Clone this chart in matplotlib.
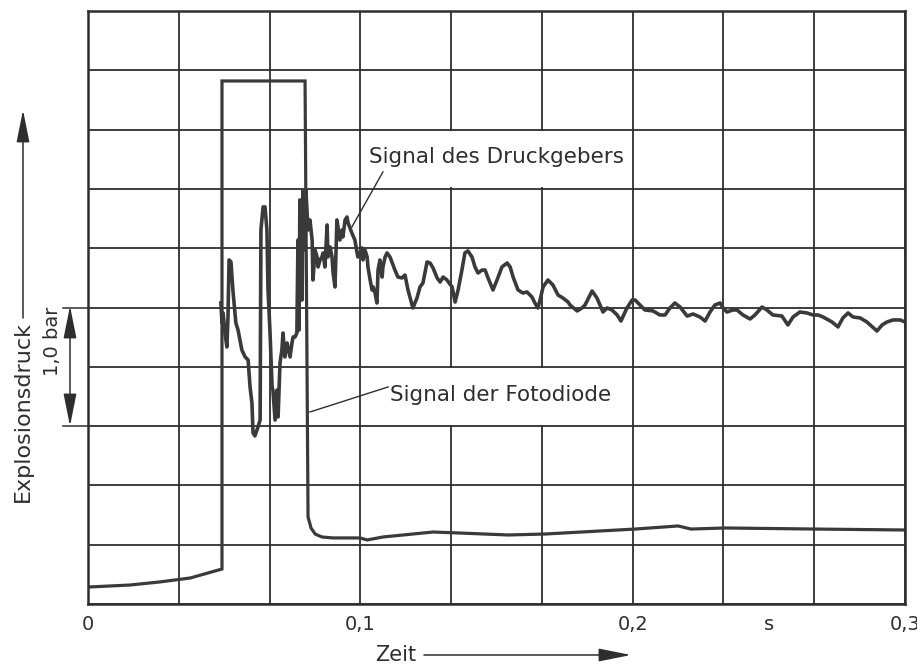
import numpy as np
import matplotlib
matplotlib.use("Agg")
import matplotlib.pyplot as plt
from matplotlib.patches import Rectangle, FancyArrowPatch

# ---------------- data (time in s, pressure in bar) ----------------
diode_t = [0.0, 0.0154, 0.0264, 0.0375, 0.0492, 0.0492, 0.0797, 0.0808, 0.0819,
           0.0834, 0.0859, 0.0900, 0.0999, 0.1025, 0.1083, 0.1267, 0.1359, 0.1543,
           0.1678, 0.2009, 0.2167, 0.2214, 0.2339, 0.2670, 0.3000]
diode_p = [0.143, 0.160, 0.186, 0.219, 0.295, 4.41, 4.41, 0.734, 0.641,
           0.590, 0.565, 0.557, 0.557, 0.540, 0.565, 0.607, 0.599, 0.582,
           0.590, 0.632, 0.658, 0.632, 0.641, 0.632, 0.624]

druck_t = [0.0488, 0.0492, 0.0496, 0.0503, 0.0510, 0.0514, 0.0518, 0.0525, 0.0532, 0.0543,
           0.0551, 0.0565, 0.0577, 0.0588, 0.0595, 0.0602, 0.0606, 0.0613, 0.0624, 0.0632,
           0.0635, 0.0643, 0.0650, 0.0657, 0.0661, 0.0668, 0.0676, 0.0679, 0.0687, 0.0694,
           0.0698, 0.0705, 0.0712, 0.0716, 0.0723, 0.0731, 0.0742, 0.0749, 0.0753, 0.0760,
           0.0767, 0.0771, 0.0775, 0.0778, 0.0786, 0.0790, 0.0797, 0.0800, 0.0808, 0.0815,
           0.0823, 0.0826, 0.0834, 0.0841, 0.0845, 0.0852, 0.0859, 0.0863, 0.0870, 0.0878,
           0.0881, 0.0889, 0.0896, 0.0900, 0.0907, 0.0914, 0.0918, 0.0925, 0.0933, 0.0936,
           0.0944, 0.0951, 0.0955, 0.0969, 0.0980, 0.0988, 0.0991, 0.0999, 0.1006, 0.1010,
           0.1017, 0.1025, 0.1028, 0.1036, 0.1043, 0.1047, 0.1054, 0.1061, 0.1065, 0.1072,
           0.1080, 0.1083, 0.1091, 0.1098, 0.1109, 0.1127, 0.1138, 0.1153, 0.1164, 0.1175,
           0.1193, 0.1208, 0.1219, 0.1230, 0.1245, 0.1256, 0.1267, 0.1282, 0.1293, 0.1304,
           0.1318, 0.1337, 0.1348, 0.1359, 0.1373, 0.1384, 0.1395, 0.1410, 0.1421, 0.1432,
           0.1447, 0.1458, 0.1469, 0.1487, 0.1502, 0.1520, 0.1539, 0.1550, 0.1561, 0.1579,
           0.1597, 0.1612, 0.1630, 0.1641, 0.1652, 0.1660, 0.1671, 0.1689, 0.1707, 0.1726,
           0.1744, 0.1763, 0.1770, 0.1796, 0.1814, 0.1825, 0.1851, 0.1869, 0.1891, 0.1906,
           0.1924, 0.1943, 0.1957, 0.1979, 0.1998, 0.2009, 0.2027, 0.2045, 0.2075, 0.2100,
           0.2119, 0.2137, 0.2155, 0.2174, 0.2200, 0.2222, 0.2247, 0.2266, 0.2284, 0.2302,
           0.2321, 0.2332, 0.2346, 0.2368, 0.2383, 0.2405, 0.2431, 0.2449, 0.2475, 0.2493,
           0.2515, 0.2548, 0.2570, 0.2589, 0.2614, 0.2640, 0.2662, 0.2681, 0.2699, 0.2732,
           0.2754, 0.2772, 0.2791, 0.2809, 0.2835, 0.2860, 0.2897, 0.2916, 0.2934, 0.2956,
           0.2982, 0.3000]
druck_p = [2.538, 2.369, 2.454, 2.285, 2.167, 2.420, 2.901, 2.884, 2.648, 2.369,
           2.310, 2.142, 2.083, 2.057, 1.830, 1.695, 1.442, 1.417, 1.492, 1.551,
           3.154, 3.348, 3.348, 3.154, 2.648, 2.310, 1.830, 1.804, 1.551, 1.804,
           1.577, 2.032, 2.142, 2.285, 2.083, 2.201, 2.083, 2.201, 2.251, 2.251,
           2.285, 3.069, 2.310, 3.407, 2.563, 3.491, 2.985, 3.491, 3.154, 3.238,
           3.069, 2.732, 2.985, 2.926, 2.842, 2.901, 2.926, 2.960, 2.842, 3.196,
           2.926, 3.010, 2.926, 2.791, 2.673, 3.238, 3.179, 3.069, 3.154, 3.095,
           3.238, 3.263, 3.213, 3.128, 3.069, 2.960, 2.926, 2.960, 3.002, 2.901,
           2.985, 2.926, 2.842, 2.732, 2.648, 2.673, 2.622, 2.538, 2.816, 2.901,
           2.757, 2.842, 2.926, 2.960, 2.926, 2.816, 2.757, 2.749, 2.774, 2.648,
           2.496, 2.580, 2.673, 2.707, 2.884, 2.875, 2.833, 2.749, 2.715, 2.757,
           2.732, 2.673, 2.546, 2.648, 2.816, 2.960, 2.977, 2.926, 2.842, 2.791,
           2.816, 2.816, 2.749, 2.648, 2.732, 2.842, 2.875, 2.842, 2.757, 2.648,
           2.622, 2.631, 2.589, 2.538, 2.496, 2.563, 2.673, 2.732, 2.690, 2.605,
           2.580, 2.546, 2.521, 2.471, 2.496, 2.521, 2.639, 2.580, 2.462, 2.496,
           2.479, 2.437, 2.386, 2.496, 2.563, 2.563, 2.521, 2.479, 2.471, 2.437,
           2.437, 2.496, 2.538, 2.504, 2.428, 2.445, 2.420, 2.386, 2.462, 2.521,
           2.538, 2.496, 2.462, 2.479, 2.479, 2.437, 2.403, 2.437, 2.504, 2.479,
           2.437, 2.428, 2.353, 2.420, 2.462, 2.454, 2.437, 2.437, 2.420, 2.378,
           2.336, 2.412, 2.454, 2.420, 2.412, 2.378, 2.302, 2.353, 2.378, 2.395,
           2.395, 2.378]

x_ticks = [0.0, 0.1, 0.2, 0.25, 0.3]
x_ticklabels = ["0", "0,1", "0,2", "s", "0,3"]
label_druck = "Signal des Druckgebers"
label_diode = "Signal der Fotodiode"
x_label = "Zeit"
y_label = "Explosionsdruck"
scale_label = "1,0 bar"

# ---------------- layout ----------------
W, H = 917, 669
INK = "#2e2e2e"
TRACE = "#3a3a3a"
plt.rcParams["font.family"] = ["DejaVu Sans"]

fig = plt.figure(figsize=(W / 100, H / 100), dpi=100)
fig.patch.set_facecolor("white")
ax = fig.add_axes([88 / W, 1 - 604 / H, 817 / W, 593 / H])
ax.set_xlim(0, 0.3)
ax.set_ylim(0, 5)


def fx(px):
    return px / W


def fy(py):
    return 1 - py / H


# grid
for xv in np.linspace(0, 0.3, 10):
    ax.axvline(xv, color=INK, lw=1.3, zorder=1)
for yv in np.linspace(0, 5, 11):
    ax.axhline(yv, color=INK, lw=1.3, zorder=1)

# white label boxes (cover grid lines inside cells)
ex, ey = 0.0007, 0.012
for (x0, y0) in [(0.1, 3.5), (0.1, 1.5)]:
    ax.add_patch(Rectangle((x0 + ex, y0 + ey), 0.1 - 2 * ex, 0.5 - 2 * ey,
                           facecolor="white", edgecolor="none", zorder=1.5))

# traces
ax.plot(diode_t, diode_p, color=TRACE, lw=2.3, zorder=3, solid_joinstyle="miter")
ax.plot(druck_t, druck_p, color=TRACE, lw=2.6, zorder=3.1, solid_joinstyle="round")

# labels with leader lines
ax.text(0.1032, 3.765, label_druck, fontsize=15.5, color=INK, ha="left", va="center", zorder=4)
ax.plot([0.1083, 0.0969], [3.643, 3.179], color=INK, lw=1.0, zorder=4)
ax.text(0.1109, 1.765, label_diode, fontsize=15.5, color=INK, ha="left", va="center", zorder=4)
ax.plot([0.0815, 0.1102], [1.619, 1.830], color=INK, lw=1.0, zorder=4)

# frame
for sp in ax.spines.values():
    sp.set_linewidth(1.8)
    sp.set_color(INK)
    sp.set_zorder(5)

ax.set_yticks([])
ax.set_xticks(x_ticks, x_ticklabels)
ax.tick_params(axis="x", length=0, pad=8, labelsize=14, labelcolor=INK)

# extension lines for the 1,0 bar dimension
for yv in (2.5, 1.5):
    ax.plot([-0.0092, 0.0], [yv, yv], color=INK, lw=1.1, clip_on=False, zorder=1)

# double arrow 1,0 bar
fig.patches.append(FancyArrowPatch((fx(70), fy(306)), (fx(70), fy(426)),
                                   transform=fig.transFigure,
                                   arrowstyle="<|-|>,head_length=2.0,head_width=0.4",
                                   mutation_scale=10, color=INK, lw=1.1,
                                   shrinkA=0, shrinkB=0))
fig.text(fx(53), fy(341), scale_label, rotation=90, fontsize=14, color=INK,
         ha="center", va="center")

# y-axis label with arrow
fig.text(fx(23), fy(412), y_label, rotation=90, fontsize=16, color=INK,
         ha="center", va="center")
fig.patches.append(FancyArrowPatch((fx(23), fy(318)), (fx(23), fy(110)),
                                   transform=fig.transFigure,
                                   arrowstyle="-|>,head_length=2.0,head_width=0.4",
                                   mutation_scale=10, color=INK, lw=1.1,
                                   shrinkA=0, shrinkB=0))

# x-axis label with arrow
fig.text(fx(396), fy(655), x_label, fontsize=15, color=INK, ha="center", va="center")
fig.patches.append(FancyArrowPatch((fx(424), fy(655)), (fx(631), fy(655)),
                                   transform=fig.transFigure,
                                   arrowstyle="-|>,head_length=2.0,head_width=0.4",
                                   mutation_scale=10, color=INK, lw=1.1,
                                   shrinkA=0, shrinkB=0))

fig.savefig("out.png", dpi=100, facecolor="white")
